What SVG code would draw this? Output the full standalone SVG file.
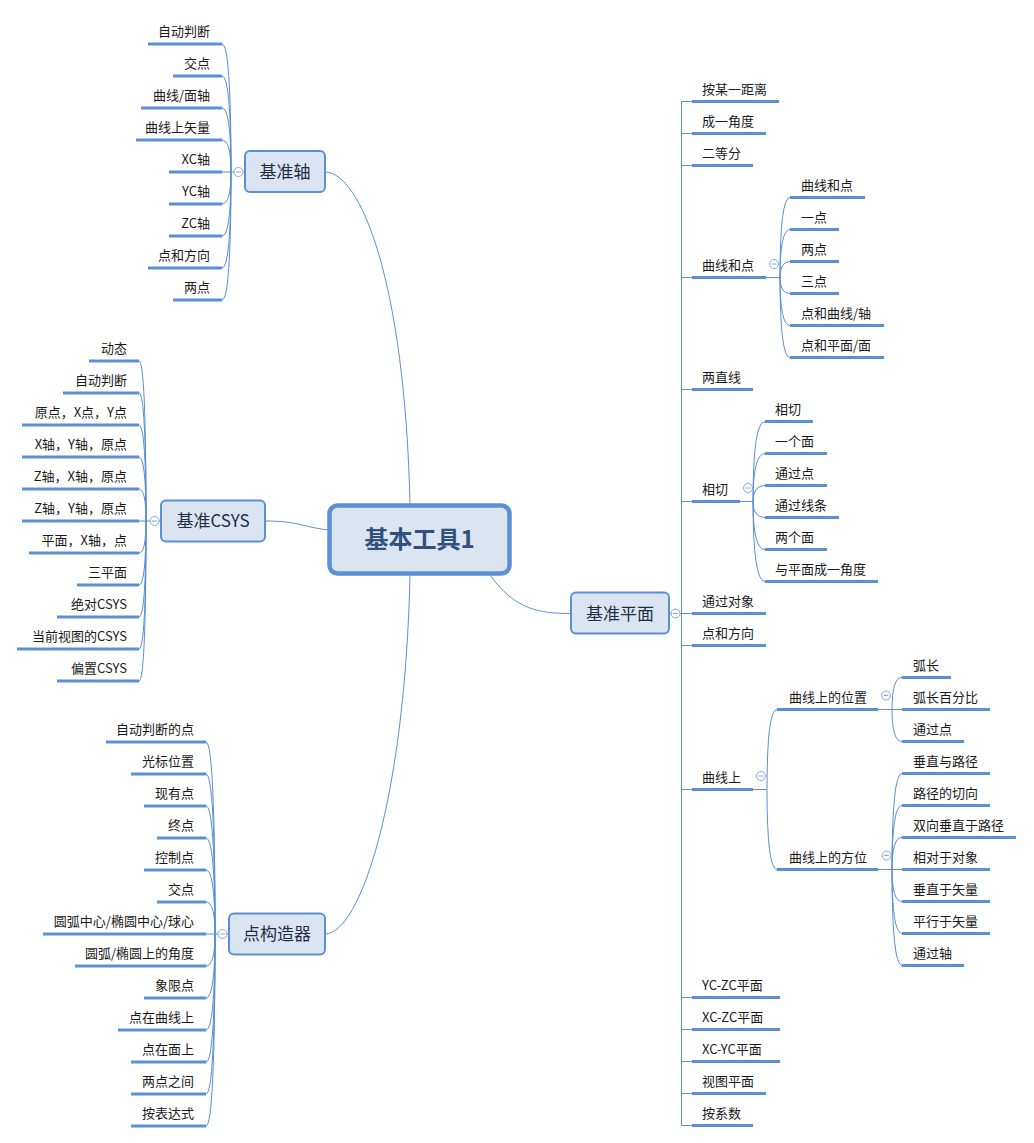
<svg xmlns="http://www.w3.org/2000/svg" width="1034" height="1143" viewBox="0 0 1034 1143">
<style>
text{font-family:"Noto Sans CJK SC","Microsoft YaHei","Noto Sans",sans-serif}
.lf{font-size:13px;fill:#1a1a1a}
.le{font-size:13px;fill:#1a1a1a;text-anchor:end}
.ul{stroke:#5b8fd6;stroke-width:3;fill:none}
.ln{stroke:#5b8fd6;stroke-width:1;fill:none}
.br rect{fill:#dbe5f1;stroke:#5b8fd6;stroke-width:2}
.br text{font-size:17px;fill:#1f2d44;text-anchor:middle}
.tg circle{fill:#fff;stroke:#86a9da;stroke-width:1}
.tg line{stroke:#86a9da;stroke-width:1}
</style>
<defs>
<g id="tog" class="tg"><circle cx="0" cy="0" r="4.5"/><line x1="-2.5" y1="0" x2="2.5" y2="0"/></g>
</defs>

<g id="connectors">
<!-- center to branches -->
<path class="ln" d="M325,172 C360,172 405,280 410,505"/>
<path class="ln" d="M265,521 C300,521 305,528 330,530"/>
<path class="ln" d="M325,934 C360,934 405,800 410,575"/>
<path class="ln" d="M490,575 C515,610 540,613.5 571,613.5"/>
<!-- axis fan -->
<path class="ln" d="M222,172 L245,172"/>
<path class="ln" d="M231,172 Q231,44 222,44"/>
<path class="ln" d="M231,172 Q231,76 222,76"/>
<path class="ln" d="M231,172 Q231,108 222,108"/>
<path class="ln" d="M231,172 Q231,140 222,140"/>
<path class="ln" d="M231,172 Q231,204 222,204"/>
<path class="ln" d="M231,172 Q231,236 222,236"/>
<path class="ln" d="M231,172 Q231,268 222,268"/>
<path class="ln" d="M231,172 Q231,300 222,300"/>
<!-- csys fan -->
<path class="ln" d="M139,521 L161,521"/>
<path class="ln" d="M146,521 Q146,361 139,361"/>
<path class="ln" d="M146,521 Q146,393 139,393"/>
<path class="ln" d="M146,521 Q146,425 139,425"/>
<path class="ln" d="M146,521 Q146,457 139,457"/>
<path class="ln" d="M146,521 Q146,489 139,489"/>
<path class="ln" d="M146,521 Q146,553 139,553"/>
<path class="ln" d="M146,521 Q146,585 139,585"/>
<path class="ln" d="M146,521 Q146,617 139,617"/>
<path class="ln" d="M146,521 Q146,649 139,649"/>
<path class="ln" d="M146,521 Q146,681 139,681"/>
<!-- point constructor fan -->
<path class="ln" d="M206,934 L229,934"/>
<path class="ln" d="M215,934 Q215,742 206,742"/>
<path class="ln" d="M215,934 Q215,774 206,774"/>
<path class="ln" d="M215,934 Q215,806 206,806"/>
<path class="ln" d="M215,934 Q215,838 206,838"/>
<path class="ln" d="M215,934 Q215,870 206,870"/>
<path class="ln" d="M215,934 Q215,902 206,902"/>
<path class="ln" d="M215,934 Q215,966 206,966"/>
<path class="ln" d="M215,934 Q215,998 206,998"/>
<path class="ln" d="M215,934 Q215,1030 206,1030"/>
<path class="ln" d="M215,934 Q215,1062 206,1062"/>
<path class="ln" d="M215,934 Q215,1094 206,1094"/>
<path class="ln" d="M215,934 Q215,1126 206,1126"/>
<!-- plane trunk -->
<path class="ln" d="M669,613.5 L692,613.5"/>
<path class="ln" d="M681.5,101.5 L681.5,1125.5"/>
<path class="ln" d="M681.5,101.5 H692 M681.5,133.5 H692 M681.5,165.5 H692 M681.5,277.5 H692 M681.5,389.5 H692 M681.5,501.5 H692 M681.5,645.5 H692 M681.5,789.5 H692 M681.5,997.5 H692 M681.5,1029.5 H692 M681.5,1061.5 H692 M681.5,1093.5 H692 M681.5,1125.5 H692"/>
<!-- 曲线和点 fan -->
<path class="ln" d="M766,277.5 L780,277.5"/>
<path class="ln" d="M780,277.5 Q780,197.5 790,197.5"/>
<path class="ln" d="M780,277.5 Q780,229.5 790,229.5"/>
<path class="ln" d="M780,277.5 Q780,261.5 790,261.5"/>
<path class="ln" d="M780,277.5 Q780,293.5 790,293.5"/>
<path class="ln" d="M780,277.5 Q780,325.5 790,325.5"/>
<path class="ln" d="M780,277.5 Q780,357.5 790,357.5"/>
<!-- 相切 fan -->
<path class="ln" d="M740,501.5 L753,501.5"/>
<path class="ln" d="M753,501.5 Q753,421.5 765,421.5"/>
<path class="ln" d="M753,501.5 Q753,453.5 765,453.5"/>
<path class="ln" d="M753,501.5 Q753,485.5 765,485.5"/>
<path class="ln" d="M753,501.5 Q753,517.5 765,517.5"/>
<path class="ln" d="M753,501.5 Q753,549.5 765,549.5"/>
<path class="ln" d="M753,501.5 Q753,581.5 765,581.5"/>
<!-- 曲线上 fan -->
<path class="ln" d="M753,789.5 L767,789.5"/>
<path class="ln" d="M767,789.5 Q767,709.5 777,709.5"/>
<path class="ln" d="M767,789.5 Q767,869.5 777,869.5"/>
<!-- 曲线上的位置 fan -->
<path class="ln" d="M878,709.5 L902,709.5"/>
<path class="ln" d="M892,709.5 Q892,677.5 902,677.5"/>
<path class="ln" d="M892,709.5 Q892,741.5 902,741.5"/>
<!-- 曲线上的方位 fan -->
<path class="ln" d="M878,869.5 L902,869.5"/>
<path class="ln" d="M892,869.5 Q892,773.5 902,773.5"/>
<path class="ln" d="M892,869.5 Q892,805.5 902,805.5"/>
<path class="ln" d="M892,869.5 Q892,837.5 902,837.5"/>
<path class="ln" d="M892,869.5 Q892,901.5 902,901.5"/>
<path class="ln" d="M892,869.5 Q892,933.5 902,933.5"/>
<path class="ln" d="M892,869.5 Q892,965.5 902,965.5"/>
</g>

<!-- central node -->
<g id="center">
<rect x="329.5" y="505.5" width="180" height="68" rx="8" fill="#dbe5f1" stroke="#5b8fd6" stroke-width="4.5"/>
<text x="419.5" y="548" font-size="24" font-weight="bold" fill="#30507e" text-anchor="middle">基本工具1</text>
</g>

<!-- branches -->
<g id="b-axis" class="br"><rect x="245" y="151" width="80" height="41" rx="5"/><text x="285" y="178">基准轴</text><use href="#tog" x="238.5" y="172"/></g>
<g id="b-csys" class="br"><rect x="161" y="500.5" width="104" height="41" rx="5"/><text x="213" y="527">基准CSYS</text><use href="#tog" x="154.5" y="521"/></g>
<g id="b-point" class="br"><rect x="229" y="913.5" width="96" height="41" rx="5"/><text x="277" y="940">点构造器</text><use href="#tog" x="222.5" y="934"/></g>
<g id="b-plane" class="br"><rect x="571" y="592.5" width="98" height="41" rx="5"/><text x="620" y="619.5">基准平面</text><use href="#tog" x="675.5" y="613.5"/></g>

<!-- 基准轴 leaves -->
<g id="axis-1"><text class="le" x="210" y="36">自动判断</text><line class="ul" x1="148" y1="44" x2="222" y2="44"/></g>
<g id="axis-2"><text class="le" x="210" y="68">交点</text><line class="ul" x1="173" y1="76" x2="222" y2="76"/></g>
<g id="axis-3"><text class="le" x="210" y="100">曲线/面轴</text><line class="ul" x1="141" y1="108" x2="222" y2="108"/></g>
<g id="axis-4"><text class="le" x="210" y="132">曲线上矢量</text><line class="ul" x1="136" y1="140" x2="222" y2="140"/></g>
<g id="axis-5"><text class="le" x="210" y="164">XC轴</text><line class="ul" x1="169" y1="172" x2="222" y2="172"/></g>
<g id="axis-6"><text class="le" x="210" y="196">YC轴</text><line class="ul" x1="169" y1="204" x2="222" y2="204"/></g>
<g id="axis-7"><text class="le" x="210" y="228">ZC轴</text><line class="ul" x1="169" y1="236" x2="222" y2="236"/></g>
<g id="axis-8"><text class="le" x="210" y="260">点和方向</text><line class="ul" x1="148" y1="268" x2="222" y2="268"/></g>
<g id="axis-9"><text class="le" x="210" y="292">两点</text><line class="ul" x1="173" y1="300" x2="222" y2="300"/></g>

<!-- 基准CSYS leaves -->
<g id="csys-1"><text class="le" x="127" y="353">动态</text><line class="ul" x1="89" y1="361" x2="139" y2="361"/></g>
<g id="csys-2"><text class="le" x="127" y="385">自动判断</text><line class="ul" x1="63" y1="393" x2="139" y2="393"/></g>
<g id="csys-3"><text class="le" x="127" y="417">原点，X点，Y点</text><line class="ul" x1="22" y1="425" x2="139" y2="425"/></g>
<g id="csys-4"><text class="le" x="127" y="449">X轴，Y轴，原点</text><line class="ul" x1="22" y1="457" x2="139" y2="457"/></g>
<g id="csys-5"><text class="le" x="127" y="481">Z轴，X轴，原点</text><line class="ul" x1="22" y1="489" x2="139" y2="489"/></g>
<g id="csys-6"><text class="le" x="127" y="513">Z轴，Y轴，原点</text><line class="ul" x1="22" y1="521" x2="139" y2="521"/></g>
<g id="csys-7"><text class="le" x="127" y="545">平面，X轴，点</text><line class="ul" x1="29" y1="553" x2="139" y2="553"/></g>
<g id="csys-8"><text class="le" x="127" y="577">三平面</text><line class="ul" x1="77" y1="585" x2="139" y2="585"/></g>
<g id="csys-9"><text class="le" x="127" y="609">绝对CSYS</text><line class="ul" x1="57" y1="617" x2="139" y2="617"/></g>
<g id="csys-10"><text class="le" x="127" y="641">当前视图的CSYS</text><line class="ul" x1="17" y1="649" x2="139" y2="649"/></g>
<g id="csys-11"><text class="le" x="127" y="673">偏置CSYS</text><line class="ul" x1="57" y1="681" x2="139" y2="681"/></g>

<!-- 点构造器 leaves -->
<g id="pt-1"><text class="le" x="194" y="734">自动判断的点</text><line class="ul" x1="106" y1="742" x2="206" y2="742"/></g>
<g id="pt-2"><text class="le" x="194" y="766">光标位置</text><line class="ul" x1="131" y1="774" x2="206" y2="774"/></g>
<g id="pt-3"><text class="le" x="194" y="798">现有点</text><line class="ul" x1="144" y1="806" x2="206" y2="806"/></g>
<g id="pt-4"><text class="le" x="194" y="830">终点</text><line class="ul" x1="157" y1="838" x2="206" y2="838"/></g>
<g id="pt-5"><text class="le" x="194" y="862">控制点</text><line class="ul" x1="144" y1="870" x2="206" y2="870"/></g>
<g id="pt-6"><text class="le" x="194" y="894">交点</text><line class="ul" x1="157" y1="902" x2="206" y2="902"/></g>
<g id="pt-7"><text class="le" x="194" y="926">圆弧中心/椭圆中心/球心</text><line class="ul" x1="43" y1="934" x2="206" y2="934"/></g>
<g id="pt-8"><text class="le" x="194" y="958">圆弧/椭圆上的角度</text><line class="ul" x1="75" y1="966" x2="206" y2="966"/></g>
<g id="pt-9"><text class="le" x="194" y="990">象限点</text><line class="ul" x1="144" y1="998" x2="206" y2="998"/></g>
<g id="pt-10"><text class="le" x="194" y="1022">点在曲线上</text><line class="ul" x1="118" y1="1030" x2="206" y2="1030"/></g>
<g id="pt-11"><text class="le" x="194" y="1054">点在面上</text><line class="ul" x1="131" y1="1062" x2="206" y2="1062"/></g>
<g id="pt-12"><text class="le" x="194" y="1086">两点之间</text><line class="ul" x1="131" y1="1094" x2="206" y2="1094"/></g>
<g id="pt-13"><text class="le" x="194" y="1118">按表达式</text><line class="ul" x1="131" y1="1126" x2="206" y2="1126"/></g>

<!-- 基准平面 leaves -->
<g id="pl-1"><text class="lf" x="702" y="93.5">按某一距离</text><line class="ul" x1="692" y1="101.5" x2="779" y2="101.5"/></g>
<g id="pl-2"><text class="lf" x="702" y="125.5">成一角度</text><line class="ul" x1="692" y1="133.5" x2="766" y2="133.5"/></g>
<g id="pl-3"><text class="lf" x="702" y="157.5">二等分</text><line class="ul" x1="692" y1="165.5" x2="753" y2="165.5"/></g>
<g id="pl-4"><text class="lf" x="702" y="269.5">曲线和点</text><line class="ul" x1="692" y1="277.5" x2="766" y2="277.5"/><use href="#tog" x="774" y="264"/></g>
<g id="pl-4-1"><text class="lf" x="801" y="189.5">曲线和点</text><line class="ul" x1="790" y1="197.5" x2="865" y2="197.5"/></g>
<g id="pl-4-2"><text class="lf" x="801" y="221.5">一点</text><line class="ul" x1="790" y1="229.5" x2="839" y2="229.5"/></g>
<g id="pl-4-3"><text class="lf" x="801" y="253.5">两点</text><line class="ul" x1="790" y1="261.5" x2="839" y2="261.5"/></g>
<g id="pl-4-4"><text class="lf" x="801" y="285.5">三点</text><line class="ul" x1="790" y1="293.5" x2="839" y2="293.5"/></g>
<g id="pl-4-5"><text class="lf" x="801" y="317.5">点和曲线/轴</text><line class="ul" x1="790" y1="325.5" x2="884" y2="325.5"/></g>
<g id="pl-4-6"><text class="lf" x="801" y="349.5">点和平面/面</text><line class="ul" x1="790" y1="357.5" x2="884" y2="357.5"/></g>
<g id="pl-5"><text class="lf" x="702" y="381.5">两直线</text><line class="ul" x1="692" y1="389.5" x2="753" y2="389.5"/></g>
<g id="pl-6"><text class="lf" x="702" y="493.5">相切</text><line class="ul" x1="692" y1="501.5" x2="740" y2="501.5"/><use href="#tog" x="748" y="488"/></g>
<g id="pl-6-1"><text class="lf" x="775" y="413.5">相切</text><line class="ul" x1="765" y1="421.5" x2="813" y2="421.5"/></g>
<g id="pl-6-2"><text class="lf" x="775" y="445.5">一个面</text><line class="ul" x1="765" y1="453.5" x2="827" y2="453.5"/></g>
<g id="pl-6-3"><text class="lf" x="775" y="477.5">通过点</text><line class="ul" x1="765" y1="485.5" x2="827" y2="485.5"/></g>
<g id="pl-6-4"><text class="lf" x="775" y="509.5">通过线条</text><line class="ul" x1="765" y1="517.5" x2="839" y2="517.5"/></g>
<g id="pl-6-5"><text class="lf" x="775" y="541.5">两个面</text><line class="ul" x1="765" y1="549.5" x2="827" y2="549.5"/></g>
<g id="pl-6-6"><text class="lf" x="775" y="573.5">与平面成一角度</text><line class="ul" x1="765" y1="581.5" x2="878" y2="581.5"/></g>
<g id="pl-7"><text class="lf" x="702" y="605.5">通过对象</text><line class="ul" x1="692" y1="613.5" x2="766" y2="613.5"/></g>
<g id="pl-8"><text class="lf" x="702" y="637.5">点和方向</text><line class="ul" x1="692" y1="645.5" x2="766" y2="645.5"/></g>
<g id="pl-9"><text class="lf" x="702" y="781.5">曲线上</text><line class="ul" x1="692" y1="789.5" x2="753" y2="789.5"/><use href="#tog" x="761" y="776"/></g>
<g id="pl-9-1"><text class="lf" x="789" y="701.5">曲线上的位置</text><line class="ul" x1="777" y1="709.5" x2="878" y2="709.5"/><use href="#tog" x="886" y="695.5"/></g>
<g id="pl-9-1-1"><text class="lf" x="913" y="669.5">弧长</text><line class="ul" x1="902" y1="677.5" x2="951" y2="677.5"/></g>
<g id="pl-9-1-2"><text class="lf" x="913" y="701.5">弧长百分比</text><line class="ul" x1="902" y1="709.5" x2="990" y2="709.5"/></g>
<g id="pl-9-1-3"><text class="lf" x="913" y="733.5">通过点</text><line class="ul" x1="902" y1="741.5" x2="964" y2="741.5"/></g>
<g id="pl-9-2"><text class="lf" x="789" y="861.5">曲线上的方位</text><line class="ul" x1="777" y1="869.5" x2="878" y2="869.5"/><use href="#tog" x="886.5" y="855.5"/></g>
<g id="pl-9-2-1"><text class="lf" x="913" y="765.5">垂直与路径</text><line class="ul" x1="902" y1="773.5" x2="990" y2="773.5"/></g>
<g id="pl-9-2-2"><text class="lf" x="913" y="797.5">路径的切向</text><line class="ul" x1="902" y1="805.5" x2="990" y2="805.5"/></g>
<g id="pl-9-2-3"><text class="lf" x="913" y="829.5">双向垂直于路径</text><line class="ul" x1="902" y1="837.5" x2="1016" y2="837.5"/></g>
<g id="pl-9-2-4"><text class="lf" x="913" y="861.5">相对于对象</text><line class="ul" x1="902" y1="869.5" x2="990" y2="869.5"/></g>
<g id="pl-9-2-5"><text class="lf" x="913" y="893.5">垂直于矢量</text><line class="ul" x1="902" y1="901.5" x2="990" y2="901.5"/></g>
<g id="pl-9-2-6"><text class="lf" x="913" y="925.5">平行于矢量</text><line class="ul" x1="902" y1="933.5" x2="990" y2="933.5"/></g>
<g id="pl-9-2-7"><text class="lf" x="913" y="957.5">通过轴</text><line class="ul" x1="902" y1="965.5" x2="964" y2="965.5"/></g>
<g id="pl-10"><text class="lf" x="702" y="989.5">YC-ZC平面</text><line class="ul" x1="692" y1="997.5" x2="780" y2="997.5"/></g>
<g id="pl-11"><text class="lf" x="702" y="1021.5">XC-ZC平面</text><line class="ul" x1="692" y1="1029.5" x2="780" y2="1029.5"/></g>
<g id="pl-12"><text class="lf" x="702" y="1053.5">XC-YC平面</text><line class="ul" x1="692" y1="1061.5" x2="780" y2="1061.5"/></g>
<g id="pl-13"><text class="lf" x="702" y="1085.5">视图平面</text><line class="ul" x1="692" y1="1093.5" x2="766" y2="1093.5"/></g>
<g id="pl-14"><text class="lf" x="702" y="1117.5">按系数</text><line class="ul" x1="692" y1="1125.5" x2="753" y2="1125.5"/></g>
</svg>
